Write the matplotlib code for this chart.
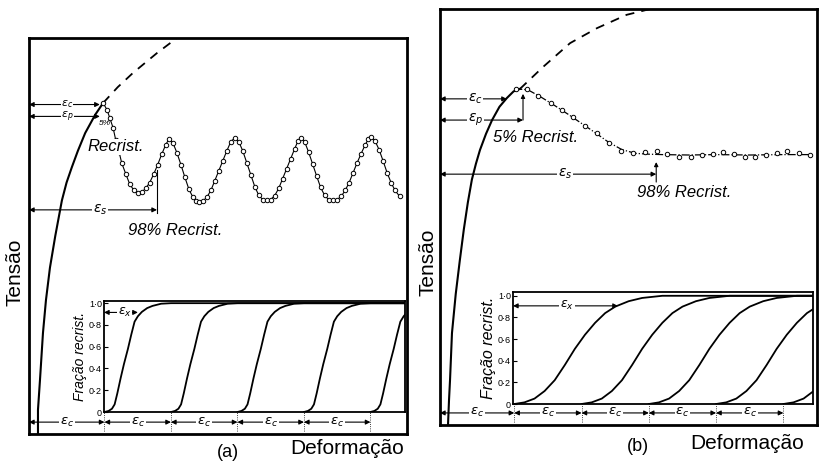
import matplotlib.pyplot as plt

plt.rcParams['font.family'] = ['Liberation Sans', 'DejaVu Sans']
plt.rcParams['mathtext.fontset'] = 'dejavusans'

W, H = 827, 465

# ------------------------------------------------------------------
# dados (deformacao em unidades de eps_c, tensao 0..1)
# ------------------------------------------------------------------

# (a) baixa temperatura / alta taxa: recristalizacao ciclica
a_rise_x = [0.0, 0.0, 0.03, 0.075, 0.12, 0.18, 0.26, 0.36, 0.43, 0.51, 0.60, 0.71, 0.86, 0.98]
a_rise_y = [0.0, 0.061, 0.136, 0.255, 0.338, 0.42, 0.50, 0.59, 0.635, 0.674, 0.715, 0.76, 0.806, 0.836]
a_dash_x = [0.98, 1.20, 1.43, 1.79, 2.09]
a_dash_y = [0.836, 0.876, 0.912, 0.962, 1.0]
a_osc_x = [0.98, 1.04, 1.08, 1.13, 1.17, 1.22, 1.26, 1.32, 1.38, 1.44, 1.50,
           1.56, 1.62, 1.68, 1.74, 1.80, 1.86, 1.92, 1.97,
           2.03, 2.09, 2.15, 2.21, 2.27, 2.33, 2.38, 2.42,
           2.48, 2.54, 2.60, 2.66, 2.72, 2.78, 2.84, 2.90, 2.96,
           3.02, 3.08, 3.14, 3.20, 3.26, 3.32, 3.38, 3.44,
           3.50, 3.56, 3.62, 3.68, 3.74, 3.80, 3.86, 3.91, 3.95,
           4.01, 4.07, 4.13, 4.19, 4.25, 4.31, 4.37, 4.44,
           4.50, 4.56, 4.62, 4.68, 4.74, 4.80, 4.86, 4.92, 4.97, 5.01,
           5.07, 5.13, 5.19, 5.25, 5.31, 5.37, 5.44]
a_osc_y = [0.836, 0.818, 0.798, 0.773, 0.742, 0.712, 0.684, 0.657, 0.631, 0.616, 0.609,
           0.611, 0.62, 0.635, 0.656, 0.68, 0.706, 0.73, 0.745,
           0.735, 0.71, 0.68, 0.648, 0.618, 0.598, 0.588, 0.586,
           0.588, 0.598, 0.615, 0.64, 0.665, 0.69, 0.715, 0.738, 0.748,
           0.738, 0.715, 0.685, 0.655, 0.625, 0.603, 0.592, 0.59,
           0.592, 0.602, 0.62, 0.645, 0.67, 0.695, 0.72, 0.74, 0.748,
           0.738, 0.712, 0.682, 0.652, 0.623, 0.603, 0.592, 0.59,
           0.592, 0.60, 0.615, 0.635, 0.66, 0.685, 0.708, 0.73, 0.745, 0.75,
           0.74, 0.718, 0.69, 0.66, 0.635, 0.615, 0.60]
# fracao recristalizada (a): forma de uma curva, repetida a cada eps_c
a_frac_dx = [0.0, 0.06, 0.11, 0.15, 0.19, 0.24, 0.29, 0.35, 0.40, 0.45,
             0.50, 0.56, 0.64, 0.72, 0.85, 1.0, 6.0]
a_frac_y = [0.0, 0.01, 0.03, 0.07, 0.17, 0.31, 0.44, 0.58, 0.71, 0.83,
            0.88, 0.92, 0.955, 0.975, 0.995, 1.0, 1.0]

# (b) alta temperatura / baixa taxa: pico unico
b_rise_x = [0.015, 0.03, 0.045, 0.074, 0.13, 0.19, 0.25, 0.31, 0.37, 0.43,
            0.49, 0.58, 0.67, 0.78, 0.89, 0.99, 1.085]
b_rise_y = [0.0, 0.06, 0.108, 0.221, 0.315, 0.395, 0.47, 0.535, 0.59, 0.628,
            0.661, 0.70, 0.733, 0.765, 0.786, 0.802, 0.808]
b_dash_x = [1.085, 1.43, 1.83, 2.23, 2.67, 3.02]
b_dash_y = [0.808, 0.861, 0.918, 0.954, 0.986, 1.0]
b_line_x = [1.0, 1.2, 1.4, 1.6, 1.8, 2.0, 2.2, 2.4, 2.6, 2.8, 3.0,
            3.2, 3.6, 4.0, 4.5, 5.0, 5.45]
b_line_y = [0.808, 0.806, 0.788, 0.768, 0.747, 0.725, 0.703, 0.68, 0.662, 0.653, 0.651,
            0.650, 0.649, 0.650, 0.649, 0.650, 0.650]
b_pts_x = [1.025, 1.19, 1.35, 1.545, 1.71, 1.87, 2.05, 2.23, 2.41, 2.585, 2.76,
           2.94, 3.12, 3.27, 3.45, 3.63, 3.79, 3.95, 4.10, 4.26, 4.43, 4.58,
           4.74, 4.90, 5.05, 5.23, 5.39]
b_pts_y = [0.808, 0.808, 0.791, 0.774, 0.757, 0.740, 0.719, 0.702, 0.678, 0.659, 0.654,
           0.656, 0.659, 0.651, 0.644, 0.644, 0.649, 0.651, 0.656, 0.651, 0.644, 0.644,
           0.649, 0.654, 0.659, 0.654, 0.649]
b_frac_dx = [0.0, 0.15, 0.3, 0.45, 0.6, 0.75, 0.9, 1.05, 1.2, 1.35, 1.5,
             1.7, 1.9, 2.2, 6.0]
b_frac_y = [0.0, 0.015, 0.05, 0.12, 0.22, 0.36, 0.51, 0.64, 0.75, 0.84, 0.9,
            0.95, 0.98, 1.0, 1.0]

frac_starts = [1, 2, 3, 4, 5]
frac_ticks = [0, 0.2, 0.4, 0.6, 0.8, 1.0]
frac_labels = ['0', '0·2', '0·4', '0·6', '0·8', '1·0']
ec_edges = [1, 2, 3, 4, 5]


def box(l, t, r, b):
    return [l / W, 1 - b / H, (r - l) / W, (b - t) / H]


def arrow(ax, x0, x1, y, label=None, lx=None, style='<|-|>', fs=10, pad=0.6):
    ax.annotate('', xy=(x1, y), xytext=(x0, y),
                arrowprops=dict(arrowstyle=style, lw=0.8, color='k',
                                shrinkA=0, shrinkB=0, mutation_scale=7))
    if label:
        ax.text(lx if lx is not None else (x0 + x1) / 2, y, label, fontsize=fs,
                ha='center', va='center', zorder=5,
                bbox=dict(fc='white', ec='none', pad=pad))


def frame(ax, lw):
    ax.set_xticks([])
    ax.set_yticks([])
    for s in ax.spines.values():
        s.set_linewidth(lw)


def inset(fig, rect, xlim, ylim, dx, fy, fs_label):
    ins = fig.add_axes(rect)
    ins.set_xlim(*xlim)
    ins.set_ylim(*ylim)
    for s in frac_starts:
        ins.plot([s + d for d in dx], fy, color='k', lw=1.3)
    ins.set_xticks([])
    ins.set_yticks(frac_ticks)
    ins.set_yticklabels(frac_labels, fontsize=6.5)
    ins.tick_params(axis='y', direction='in', length=3, pad=1.5)
    for s in ins.spines.values():
        s.set_linewidth(1.3)
    ins.set_ylabel('Fração recrist.', fontsize=fs_label, style='italic', labelpad=1)
    ins.patch.set_alpha(0)
    return ins


fig = plt.figure(figsize=(W / 100, H / 100), dpi=100)

# ------------------------------- (a) -------------------------------
ax = fig.add_axes(box(29, 38, 407, 434))
ax.set_xlim(-0.135, 5.55)
ax.set_ylim(0, 1)
frame(ax, 2)
ax.plot(a_rise_x, a_rise_y, color='k', lw=1.5)
ax.plot(a_dash_x, a_dash_y, color='k', lw=1.3, ls=(0, (5, 4)))
ax.plot(a_osc_x, a_osc_y, color='k', lw=0.8, marker='o', ms=3.2,
        mfc='white', mec='k', mew=0.7)

arrow(ax, -0.135, 0.93, 0.832, r'$\varepsilon_c$', lx=0.44, fs=8, pad=0.1)
arrow(ax, -0.135, 0.93, 0.802, r'$\varepsilon_p$', lx=0.44, fs=8, pad=0.1)
ax.text(1.0, 0.783, '5%', fontsize=6, style='italic', ha='center', va='center')
ax.text(0.74, 0.725, 'Recrist.', fontsize=12, style='italic', ha='left', va='center',
        zorder=5, bbox=dict(fc='white', ec='none', pad=0.5))
arrow(ax, -0.135, 1.79, 0.566, r'$\varepsilon_s$', lx=0.93)
ax.plot([1.79, 1.79], [0.558, 0.667], color='k', lw=0.8)
ax.text(1.35, 0.515, '98% Recrist.', fontsize=12, style='italic', ha='left', va='center')

arrow(ax, -0.135, 1, 0.03, r'$\varepsilon_c$', fs=9.5)
for i in range(len(ec_edges) - 1):
    arrow(ax, ec_edges[i], ec_edges[i + 1], 0.03, r'$\varepsilon_c$', fs=9.5)
for e in ec_edges:
    ax.plot([e, e], [0.008, 0.056], color='k', lw=0.6, ls=':')

ins_a = inset(fig, box(104, 301, 405, 412), (0.99, 5.52), (0, 1.02),
              a_frac_dx, a_frac_y, 10)
arrow(ins_a, 0.99, 1.50, 0.915, r'$\varepsilon_x$', lx=1.30, fs=9)

fig.text(15 / W, 1 - 272 / H, 'Tensão', rotation=90, fontsize=15, ha='center', va='center')
fig.text(347 / W, 1 - 448 / H, 'Deformação', fontsize=15, ha='center', va='center')
fig.text(228 / W, 1 - 452 / H, '(a)', fontsize=13, ha='center', va='center')

# ------------------------------- (b) -------------------------------
bx = fig.add_axes(box(440, 9, 817, 425))
bx.set_xlim(-0.104, 5.50)
bx.set_ylim(0, 1)
frame(bx, 2)
bx.plot(b_rise_x, b_rise_y, color='k', lw=1.5)
bx.plot(b_dash_x, b_dash_y, color='k', lw=1.3, ls=(0, (5, 4)))
bx.plot(b_line_x, b_line_y, color='k', lw=0.9, ls='-.')
bx.plot(b_pts_x, b_pts_y, ls='none', marker='o', ms=3.2, mfc='white', mec='k', mew=0.7)

arrow(bx, -0.104, 0.89, 0.784, r'$\varepsilon_c$', lx=0.42)
arrow(bx, -0.104, 1.13, 0.733, r'$\varepsilon_p$', lx=0.42)
bx.annotate('', xy=(1.13, 0.796), xytext=(1.13, 0.733),
            arrowprops=dict(arrowstyle='-|>', lw=0.8, color='k',
                            shrinkA=0, shrinkB=0, mutation_scale=6))
bx.text(0.68, 0.692, '5% Recrist.', fontsize=12, style='italic', ha='left', va='center')
arrow(bx, -0.104, 3.11, 0.603, r'$\varepsilon_s$', lx=1.75)
bx.annotate('', xy=(3.11, 0.632), xytext=(3.11, 0.584),
            arrowprops=dict(arrowstyle='-|>', lw=0.8, color='k',
                            shrinkA=0, shrinkB=0, mutation_scale=6))
bx.text(2.82, 0.558, '98% Recrist.', fontsize=12, style='italic', ha='left', va='center')

arrow(bx, -0.104, 1, 0.029, r'$\varepsilon_c$', fs=9.5)
for i in range(len(ec_edges) - 1):
    arrow(bx, ec_edges[i], ec_edges[i + 1], 0.029, r'$\varepsilon_c$', fs=9.5)
for e in ec_edges:
    bx.plot([e, e], [0.008, 0.05], color='k', lw=0.6, ls=':')

ins_b = inset(fig, box(513, 292, 813, 404), (0.98, 5.44), (0, 1.035),
              b_frac_dx, b_frac_y, 11.5)
arrow(ins_b, 0.98, 2.54, 0.907, r'$\varepsilon_x$', lx=1.78, fs=9)

fig.text(428 / W, 1 - 262 / H, 'Tensão', rotation=90, fontsize=15, ha='center', va='center')
fig.text(747 / W, 1 - 443 / H, 'Deformação', fontsize=15, ha='center', va='center')
fig.text(638 / W, 1 - 446 / H, '(b)', fontsize=13, ha='center', va='center')

fig.savefig('out.png', dpi=100)
